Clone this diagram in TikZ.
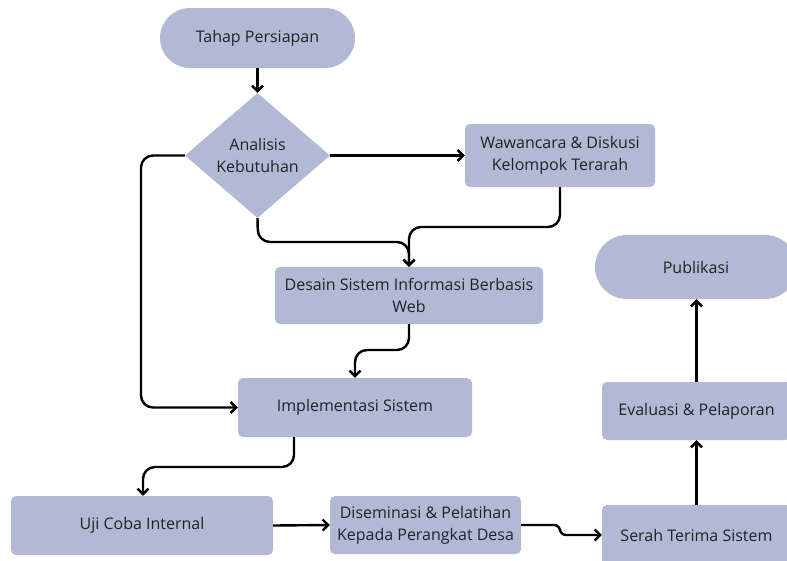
\documentclass[tikz,border=0pt]{standalone}
\usepackage{fontspec}
\setmainfont{Open Sans}
\usetikzlibrary{shapes.geometric,arrows.meta}
\definecolor{boxfill}{RGB}{177,185,212}
\definecolor{txt}{RGB}{35,35,35}
\begin{document}
\begin{tikzpicture}[x=1pt,y=-1pt,
  lbl/.style={text=txt,font=\fontsize{16}{22}\selectfont,align=center,inner sep=0pt},
  box/.style={lbl,fill=boxfill,rounded corners=5pt},
  term/.style={lbl,fill=boxfill},
  conn/.style={line width=2.4pt,rounded corners=12pt,-{Straight Barb[length=5.5pt,width=11pt,line width=2.4pt]}}]
\useasboundingbox (0,0) rectangle (787,560);
\clip (0,0) rectangle (787,560);
% nodes
\node[term,minimum width=195pt,minimum height=60pt,rounded corners=30pt] (tahap) at (257.5,38) {Tahap Persiapan};
\node[diamond,fill=boxfill,inner sep=0pt,minimum width=145pt,minimum height=125pt] (ana) at (257.5,155.5) {};
\node[lbl] at (ana) {Analisis\\Kebutuhan};
\node[box,minimum width=190pt,minimum height=63pt] (waw) at (560,155.5) {Wawancara \& Diskusi\\Kelompok Terarah};
\node[box,minimum width=268pt,minimum height=57pt] (des) at (409,295.5) {Desain Sistem Informasi Berbasis\\Web};
\node[box,minimum width=234pt,minimum height=59pt] (impl) at (355,407.5) {Implementasi Sistem};
\node[box,minimum width=262pt,minimum height=59pt] (uji) at (142,525.5) {Uji Coba Internal};
\node[box,minimum width=191pt,minimum height=58pt] (dis) at (425.5,525) {Diseminasi \& Pelatihan\\Kepada Perangkat Desa};
\node[box,minimum width=189pt,minimum height=60pt] (ser) at (696.5,535) {Serah Terima Sistem};
\node[box,minimum width=189pt,minimum height=58pt] (eva) at (696.5,411) {Evaluasi \& Pelaporan};
\node[term,minimum width=202pt,minimum height=64pt,rounded corners=32pt] (pub) at (696,267) {Publikasi};
% helper coordinates
\coordinate (lx) at (141,407.5);
\coordinate (b1) at (258,242);
\coordinate (b2) at (409,242);
\coordinate (w1) at (560,227);
\coordinate (w2) at (409,227);
\coordinate (d1) at (409,350);
\coordinate (d2) at (355,350);
\coordinate (i1) at (294,467);
\coordinate (i2) at (143,467);
\coordinate (s1) at (560,525);
\coordinate (s2) at (560,535);
% connectors
\draw[conn] (tahap.south) -- (ana.north);
\draw[conn] (ana.east) -- (waw.west);
\draw[conn] (ana.west) -| (lx) -- (impl.west);
\draw[conn] (ana.south) -- (b1) -- (b2) -- (des.north);
\draw[conn] (waw.south) -- (w1) -- (w2) -- (des.north);
\draw[conn] (des.south) -- (d1) -- (d2) -- (impl.north);
\draw[conn] (i1 |- impl.south) -- (i1) -- (i2) -- (i2 |- uji.north);
\draw[conn] (uji.east) -- (dis.west);
\draw[conn,rounded corners=6pt] (dis.east) -- (s1) -- (s2) -- (ser.west);
\draw[conn] (ser.north) -- (eva.south);
\draw[conn] (eva.north) -- (eva.north |- pub.south);
\end{tikzpicture}
\end{document}
